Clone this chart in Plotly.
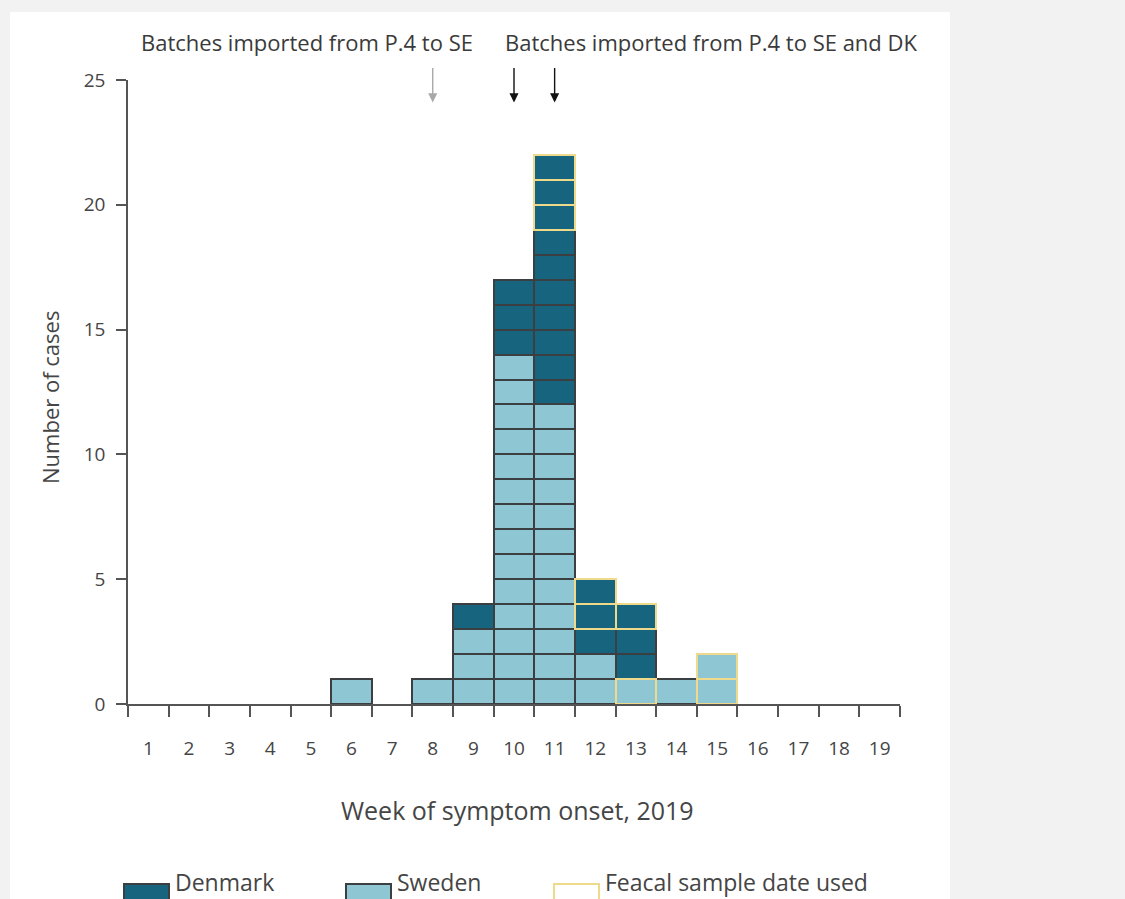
import plotly.graph_objects as go

# ---------------- data ----------------
weeks = list(range(1, 20))
sweden = [0, 0, 0, 0, 0, 1, 0, 1, 3, 14, 12, 2, 1, 1, 2, 0, 0, 0, 0]
denmark = [0, 0, 0, 0, 0, 0, 0, 0, 1, 3, 10, 3, 3, 0, 0, 0, 0, 0, 0]
# how many of each country's cases used the feacal sample date
sweden_feacal = [0, 0, 0, 0, 0, 0, 0, 0, 0, 0, 0, 0, 1, 0, 2, 0, 0, 0, 0]
denmark_feacal = [0, 0, 0, 0, 0, 0, 0, 0, 0, 0, 3, 2, 1, 0, 0, 0, 0, 0, 0]
batch_weeks_se = [8]
batch_weeks_se_dk = [10, 11]
y_ticks = [0, 5, 10, 15, 20, 25]

# ---------------- style ----------------
DK = "#17647f"
SE = "#8fc6d3"
EDGE = "#3b3f42"
YELLOW = "#efd98a"
TXT = "#454545"
FONT = "Open Sans"

# build the stacked cells (one case per cell), bottom-up
cells = []
for i in range(len(weeks)):
    col = []
    col += [("SE", False)] * (sweden[i] - sweden_feacal[i])
    col += [("SE", True)] * sweden_feacal[i]
    col += [("DK", False)] * (denmark[i] - denmark_feacal[i])
    col += [("DK", True)] * denmark_feacal[i]
    cells.append(col)

max_h = max(len(c) for c in cells)
fig = go.Figure()

for feacal_pass in (False, True):
    for k in range(max_h):
        xs, cols = [], []
        for i, w in enumerate(weeks):
            if len(cells[i]) > k and cells[i][k][1] == feacal_pass:
                xs.append(w)
                cols.append(DK if cells[i][k][0] == "DK" else SE)
        if not xs:
            continue
        fig.add_trace(go.Bar(
            x=xs, y=[1] * len(xs), base=[k] * len(xs), width=1,
            marker=dict(color=cols,
                        line=dict(color=YELLOW if feacal_pass else EDGE, width=2)),
            showlegend=False, hoverinfo="skip",
        ))

# ---------------- layout ----------------
L, R, T, B = 128, 900, 80, 704
W, H = 1125, 899
def px(x):
    return (x - L) / (R - L)
def py(y):
    return (B - y) / (B - T)

shapes = [
    dict(type="rect", xref="paper", yref="paper", x0=px(10), x1=px(950),
         y0=py(960), y1=py(12), fillcolor="white", line=dict(width=0), layer="below"),
]
annotations = []

# legend drawn manually (wide swatches)
legend_items = [("Denmark", DK, EDGE, 124), ("Sweden", SE, EDGE, 346), ("Feacal sample date used", "white", YELLOW, 554)]
for label, fill, edge, x0 in legend_items:
    shapes.append(dict(type="rect", xref="paper", yref="paper",
                       x0=px(x0), x1=px(x0 + 45), y0=py(902), y1=py(884),
                       fillcolor=fill, line=dict(color=edge, width=2)))
    annotations.append(dict(text=label, xref="paper", yref="paper", x=px(x0 + 49), y=py(900),
                            xanchor="left", yanchor="bottom", showarrow=False,
                            font=dict(family=FONT, size=23, color=TXT)))

# batch annotations
annotations.append(dict(text="Batches imported from P.4 to SE", xref="paper", yref="paper",
                        x=px(307), y=py(42), showarrow=False, xanchor="center", yanchor="middle",
                        font=dict(family=FONT, size=22, color="#3a3a3a")))
annotations.append(dict(text="Batches imported from P.4 to SE and DK", xref="paper", yref="paper",
                        x=px(711), y=py(42), showarrow=False, xanchor="center", yanchor="middle",
                        font=dict(family=FONT, size=22, color="#3a3a3a")))
for w in batch_weeks_se:
    annotations.append(dict(x=w, y=24.1, xref="x", yref="y", text="", showarrow=True,
                            ax=0, ay=-36, arrowhead=2, arrowsize=1.3, arrowwidth=1.4,
                            arrowcolor="#a8a8a8"))
for w in batch_weeks_se_dk:
    annotations.append(dict(x=w, y=24.1, xref="x", yref="y", text="", showarrow=True,
                            ax=0, ay=-36, arrowhead=2, arrowsize=1.3, arrowwidth=1.4,
                            arrowcolor="#111111"))

# axis titles
annotations.append(dict(text="Week of symptom onset, 2019", xref="paper", yref="paper",
                        x=px(517), y=py(810), showarrow=False, xanchor="center", yanchor="middle",
                        font=dict(family=FONT, size=25, color=TXT)))
annotations.append(dict(text="Number of cases", xref="paper", yref="paper",
                        x=px(50), y=py(398), showarrow=False, xanchor="center", yanchor="middle",
                        textangle=-90, font=dict(family=FONT, size=22, color=TXT)))

fig.update_layout(
    width=W, height=H,
    margin=dict(l=L, r=W - R, t=T, b=H - B, autoexpand=False),
    paper_bgcolor="#f2f2f2", plot_bgcolor="rgba(0,0,0,0)",
    barmode="overlay", bargap=0,
    shapes=shapes, annotations=annotations,
    xaxis=dict(range=[0.5, 19.5], tickmode="array", tickvals=weeks,
               ticktext=[str(w) for w in weeks], ticks="outside", ticklen=10,
               tickcolor="rgba(0,0,0,0)", ticklabelstandoff=16,
               tickfont=dict(family=FONT, size=19, color=TXT),
               showline=True, linecolor="#555", linewidth=1.6, showgrid=False, zeroline=False,
               minor=dict(tickmode="array", tickvals=[w - 0.5 for w in weeks] + [weeks[-1] + 0.5],
                          ticks="outside", ticklen=11, tickwidth=1.5, tickcolor="#555", showgrid=False)),
    yaxis=dict(range=[0, 25], tickmode="array", tickvals=y_ticks, ticks="outside", ticklen=10,
               tickwidth=1.5, tickcolor="#555", ticklabelstandoff=7,
               tickfont=dict(family=FONT, size=19, color=TXT),
               showline=True, linecolor="#555", linewidth=1.6, showgrid=False, zeroline=False),
)

fig.write_html(
    "out.html",
    config={"displayModeBar": False},
    post_script="document.body.style.margin='0';document.body.style.background='#f2f2f2';",
)
